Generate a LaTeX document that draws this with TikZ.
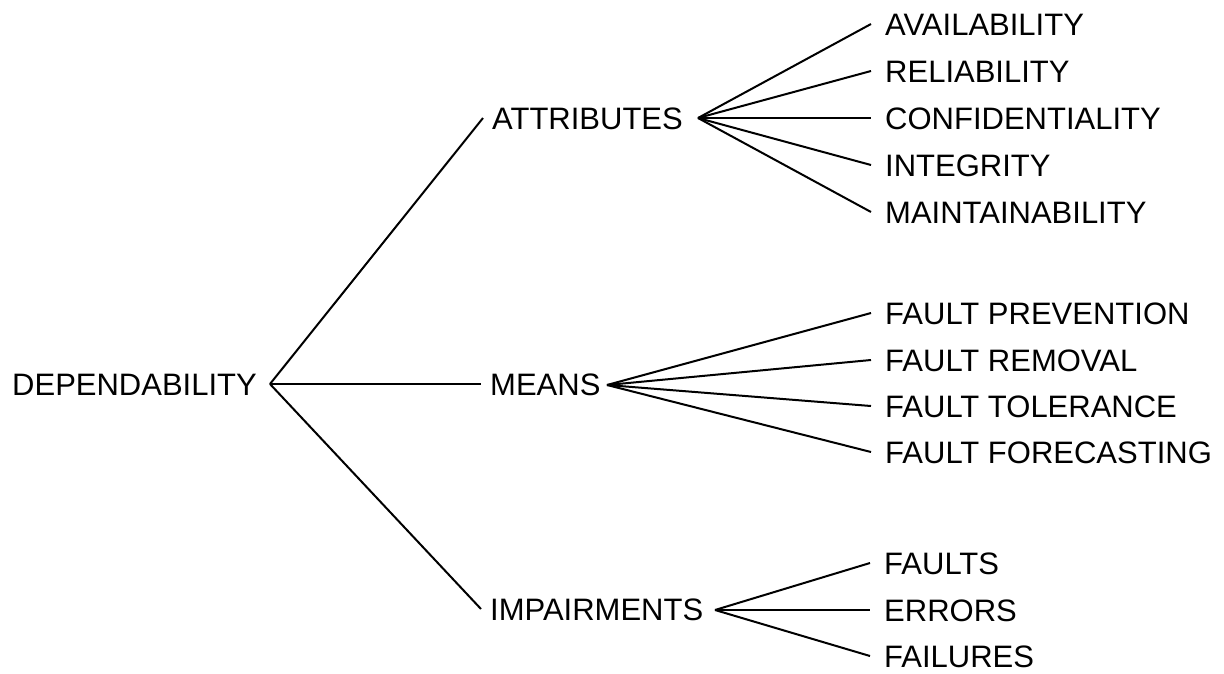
\documentclass[tikz,border=0pt]{standalone}
\usepackage{fontspec}
\setmainfont{Liberation Sans}
\begin{document}
\begin{tikzpicture}[x=1pt,y=-1pt,
  lbl/.style={anchor=west,inner sep=0pt,text height=22pt,text depth=0pt,
              font=\fontsize{31}{36}\selectfont},
  branch/.style={draw=black,line width=2pt,line join=miter}]
\useasboundingbox (0,0) rectangle (1224,673);

% root and first level
\node[lbl] (dep)   at (12,384)  {DEPENDABILITY};
\node[lbl] (attr)  at (492,118) {ATTRIBUTES};
\node[lbl] (means) at (490,384) {MEANS};
\node[lbl] (imp)   at (490,609) {IMPAIRMENTS};

% fan points
\coordinate (depfan)   at (270,384);
\coordinate (attrfan)  at (698,118);
\coordinate (meansfan) at (607,385);
\coordinate (impfan)   at (715,610);

% attributes
\node[lbl] (avail) at (885,24)  {AVAILABILITY};
\node[lbl] (rel)   at (885,71)  {RELIABILITY};
\node[lbl] (conf)  at (885,118) {CONFIDENTIALITY};
\node[lbl] (integ) at (885,165) {INTEGRITY};
\node[lbl] (maint) at (885,212) {MAINTAINABILITY};

% means
\node[lbl] (prev)  at (885,313) {FAULT PREVENTION};
\node[lbl] (remov) at (885,360) {FAULT REMOVAL};
\node[lbl] (toler) at (885,406) {FAULT TOLERANCE};
\node[lbl] (fore)  at (885,452) {FAULT FORECASTING};

% impairments
\node[lbl] (faults) at (884,563) {FAULTS};
\node[lbl] (errors) at (884,610) {ERRORS};
\node[lbl] (fails)  at (884,656) {FAILURES};

% connectors
\foreach \c in {attr,means,imp}
  \draw[branch] (depfan) -- ([xshift=-9pt]\c.west);
\foreach \c in {avail,rel,conf,integ,maint}
  \draw[branch] (attrfan) -- ([xshift=-14pt]\c.west);
\foreach \c in {prev,remov,toler,fore}
  \draw[branch] (meansfan) -- ([xshift=-14pt]\c.west);
\foreach \c in {faults,errors,fails}
  \draw[branch] (impfan) -- ([xshift=-14pt]\c.west);
\end{tikzpicture}
\end{document}
